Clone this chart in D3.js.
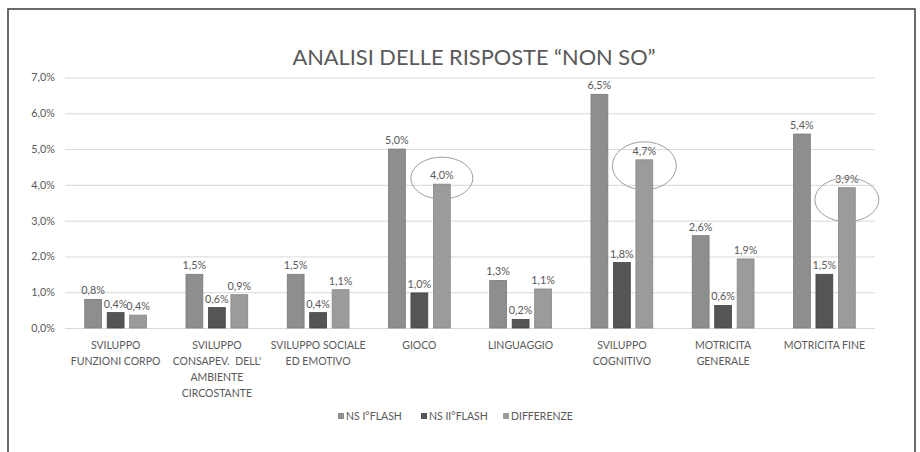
<!DOCTYPE html>
<html><head><meta charset="utf-8">
<script src="https://cdn.jsdelivr.net/npm/d3@7/dist/d3.min.js"></script>
<style>
html,body{margin:0;padding:0;background:#fff;}
svg{display:block;font-family:Lato, "Open Sans", sans-serif;}
</style></head>
<body><svg id="chart" width="920" height="452"></svg>
<script>
const title = "ANALISI DELLE RISPOSTE \u201cNON SO\u201d";
const categories = [
  "SVILUPPO\nFUNZIONI CORPO",
  "SVILUPPO\nCONSAPEV.  DELL'\nAMBIENTE\nCIRCOSTANTE",
  "SVILUPPO SOCIALE\nED EMOTIVO",
  "GIOCO",
  "LINGUAGGIO",
  "SVILUPPO\nCOGNITIVO",
  "MOTRICITA\nGENERALE",
  "MOTRICITA FINE"
];
const seriesNames = ["NS I\u00b0FLASH", "NS II\u00b0FLASH", "DIFFERENZE"];
const nsPrimoFlash   = [0.80, 1.50, 1.50, 5.00, 1.33, 6.53, 2.58, 5.42];
const nsSecondoFlash = [0.43, 0.57, 0.43, 0.98, 0.24, 1.83, 0.63, 1.50];
const differenze     = [0.36, 0.93, 1.07, 4.02, 1.09, 4.70, 1.93, 3.92];
const yTicks = [0, 1, 2, 3, 4, 5, 6, 7];
const highlighted = [
  {cat: 3, series: 2, dy: -6, rx: 31, ry: 21},
  {cat: 5, series: 2, dy: 6, rx: 32, ry: 24},
  {cat: 7, series: 2, dy: 12, rx: 32, ry: 22}
];

const seriesValues = [nsPrimoFlash, nsSecondoFlash, differenze];
const colors = ["#8e8e8e", "#555555", "#9b9b9b"];
const strokes = ["#7a7a7a", "#444444", "#868686"];
const textColor = "#595959";
const fmt = v => v.toFixed(1).replace(".", ",") + "%";

const svg = d3.select("#chart");
// frame
svg.append("path").attr("d", "M8,460 L8,9 L915,9 L915,460")
  .attr("fill", "none").attr("stroke", "#3a3a3a").attr("stroke-width", 1.5);

const plotL = 65, plotR = 875, plotT = 77.5, plotB = 328;
const x0 = d3.scaleBand().domain(d3.range(categories.length)).range([plotL, plotR])
  .paddingInner(0.39).paddingOuter(0.195);
const x1 = d3.scaleBand().domain(d3.range(3)).range([0, x0.bandwidth()]).paddingInner(0.25);
const y = d3.scaleLinear().domain([0, 7]).range([plotB, plotT]);

// title
svg.append("text").attr("x", 474).attr("y", 65).attr("text-anchor", "middle")
  .attr("font-size", 21.8).attr("fill", textColor).text(title);

// grid + y axis
const yAxis = d3.axisLeft(y).tickValues(yTicks).tickSize(-(plotR - plotL))
  .tickFormat(d => fmt(d)).tickPadding(10);
const gy = svg.append("g").attr("transform", `translate(${plotL},0)`).call(yAxis);
gy.select(".domain").remove();
gy.selectAll(".tick line").attr("stroke", "#d9d9d9").attr("stroke-width", 1);
gy.selectAll(".tick text").attr("fill", textColor).attr("font-size", 10.8)
  .attr("font-family", "Lato, 'Open Sans', sans-serif");

// bars
const groups = svg.append("g").selectAll("g").data(categories).join("g")
  .attr("transform", (d, i) => `translate(${x0(i)},0)`);
groups.each(function(c, ci) {
  const g = d3.select(this);
  seriesValues.forEach((vals, si) => {
    const v = vals[ci];
    g.append("rect").attr("x", x1(si)).attr("y", y(v))
      .attr("width", x1.bandwidth()).attr("height", y(0) - y(v))
      .attr("fill", colors[si]).attr("stroke", strokes[si]).attr("stroke-width", 0.8);
    g.append("text").attr("x", x1(si) + x1.bandwidth() / 2).attr("y", y(v) - 5)
      .attr("text-anchor", "middle").attr("font-size", 10.8).attr("fill", textColor)
      .text(fmt(v));
  });
});

// category labels
const xl = svg.append("g");
categories.forEach((c, i) => {
  const t = xl.append("text").attr("x", x0(i) + x0.bandwidth() / 2).attr("y", 349)
    .attr("text-anchor", "middle").attr("font-size", 10.5).attr("fill", textColor)
    .style("white-space", "pre");
  c.split("\n").forEach((line, li) => {
    t.append("tspan").attr("x", x0(i) + x0.bandwidth() / 2).attr("dy", li === 0 ? 0 : 16).text(line);
  });
});

// highlight ellipses
highlighted.forEach(h => {
  const v = seriesValues[h.series][h.cat];
  svg.append("ellipse")
    .attr("cx", x0(h.cat) + x1(h.series) + x1.bandwidth() / 2)
    .attr("cy", y(v) + h.dy).attr("rx", h.rx).attr("ry", h.ry)
    .attr("fill", "none").attr("stroke", "#a0a0a0").attr("stroke-width", 1);
});

// legend
const legendX = [338, 421, 503];
seriesNames.forEach((n, i) => {
  svg.append("rect").attr("x", legendX[i]).attr("y", 413).attr("width", 6).attr("height", 6)
    .attr("fill", colors[i]);
  svg.append("text").attr("x", legendX[i] + 8).attr("y", 420).attr("font-size", 10.5)
    .attr("fill", textColor).text(n);
});
</script></body></html>
